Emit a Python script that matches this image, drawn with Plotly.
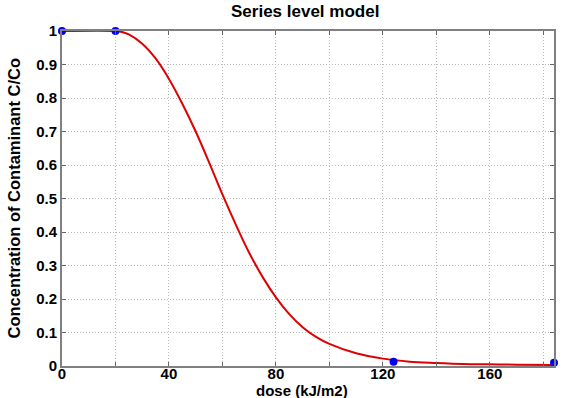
import plotly.graph_objects as go

# Model curve
model_dose = [0, 20, 22, 25, 30, 35, 40, 45, 50, 55, 60, 65, 70, 75, 80, 85, 90, 95, 100,
              110, 120, 130, 140, 150, 160, 170, 184]
model_conc = [1, 1, 0.998, 0.99, 0.962, 0.918, 0.857, 0.783, 0.70, 0.608, 0.512, 0.422, 0.338,
              0.266, 0.205, 0.155, 0.116, 0.087, 0.066, 0.038, 0.022, 0.013, 0.009,
              0.006, 0.005, 0.004, 0.003]

# Measured points
obs_dose = [0, 20, 124, 184]
obs_conc = [1, 1, 0.013, 0.01]

x_tickvals = [0, 20, 40, 60, 80, 100, 120, 140, 160, 180]
x_ticktext = ["0", "", "40", "", "80", "", "120", "", "160", ""]
y_tickvals = [0, 0.1, 0.2, 0.3, 0.4, 0.5, 0.6, 0.7, 0.8, 0.9, 1]
y_ticktext = ["0", "0.1", "0.2", "0.3", "0.4", "0.5", "0.6", "0.7", "0.8", "0.9", "1"]

fig = go.Figure()
fig.add_trace(go.Scatter(x=model_dose, y=model_conc, mode="lines",
                         line=dict(color="#e00000", width=2, shape="spline", smoothing=1.0),
                         showlegend=False, cliponaxis=False))
fig.add_trace(go.Scatter(x=obs_dose, y=obs_conc, mode="markers",
                         marker=dict(color="#0000ee", size=8),
                         showlegend=False, cliponaxis=False))

FAM = "Liberation Sans, Arial, sans-serif"
font_b = dict(family=FAM, size=15, color="black")

fig.update_layout(
    width=561, height=398,
    margin=dict(l=62, r=7, t=31, b=32, autoexpand=False),
    paper_bgcolor="white", plot_bgcolor="white",
    font=font_b,
    annotations=[
        dict(text="<b>Series level model</b>", xref="paper", yref="paper", x=0.5, y=1,
             xanchor="center", yanchor="bottom", yshift=8, xshift=-3, showarrow=False,
             font=dict(family=FAM, size=17, color="black")),
        dict(text="<b>dose (kJ/m2)</b>", xref="paper", yref="paper", x=0.5, y=0,
             xanchor="center", yanchor="top", yshift=-14, xshift=-6, showarrow=False,
             font=dict(family=FAM, size=15, color="black")),
        dict(text="<b>Concentration of Contaminant C/Co</b>", xref="paper", yref="paper",
             x=0, y=0.5, xanchor="right", yanchor="middle", xshift=-38, textangle=-90,
             showarrow=False, font=dict(family=FAM, size=16.5, color="black")),
    ],
)
fig.update_xaxes(range=[0, 184], tickvals=x_tickvals,
                 ticktext=[f"<b>{t}</b>" if t else "" for t in x_ticktext],
                 ticks="inside", ticklen=4, tickcolor="#666", mirror="ticks",
                 showline=True, linecolor="#808080", linewidth=1.8,
                 showgrid=True, gridcolor="#b8b8b8", griddash="1px,2px", gridwidth=1,
                 zeroline=False, automargin=False, tickfont=font_b,
                 ticklabelstandoff=-7)
fig.update_yaxes(range=[0, 1], tickvals=y_tickvals,
                 ticktext=[f"<b>{t}</b>" for t in y_ticktext],
                 ticks="inside", ticklen=4, tickcolor="#666", mirror="ticks",
                 showline=True, linecolor="#808080", linewidth=1.8,
                 showgrid=True, gridcolor="#b8b8b8", griddash="1px,2px", gridwidth=1,
                 zeroline=False, automargin=False, tickfont=font_b)

fig.write_html("out.html", config={"displayModeBar": False},
               post_script="document.body.style.margin='0';document.body.style.overflow='hidden';")
